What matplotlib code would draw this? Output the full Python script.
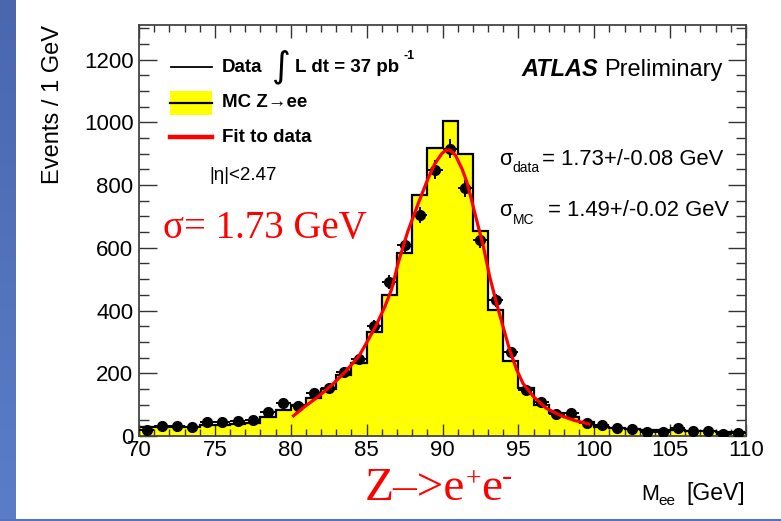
import numpy as np
import matplotlib
matplotlib.use("Agg")
import matplotlib.pyplot as plt
from matplotlib.lines import Line2D
from matplotlib.patches import Rectangle
from matplotlib.ticker import MultipleLocator
from matplotlib.colors import LinearSegmentedColormap

# ---- histogram contents (1 GeV bins, 70-110 GeV) ----
bin_low = 70
bin_high = 110
mc_counts = [28, 28, 29, 30, 34, 35, 37, 40, 62, 83,
             99, 120, 150, 196, 234, 332, 448, 582, 767, 918,
             1005, 900, 652, 403, 240, 152, 100, 72, 60, 45,
             30, 25, 22, 20, 18, 18, 16, 15, 13, 12]
data_counts = [19, 32, 32, 30, 46, 46, 49, 51, 78, 104,
               97, 136, 154, 205, 244, 350, 491, 608, 704, 849,
               916, 789, 624, 433, 268, 146, 109, 69, 72, 40,
               35, 24, 22, 14, 14, 24, 15, 15, 6, 11]

# ---- fitted line shape (mass in GeV, events per GeV) ----
fit_mass = [80.1, 80.9, 81.8, 82.7, 83.6, 84.5, 85.1, 85.6, 86.2, 86.65,
            87.1, 87.7, 88.4, 89.05, 89.5, 89.95, 90.2, 90.4, 90.6, 90.85,
            91.3, 91.6, 91.9, 92.25, 92.7, 93.1, 93.55, 94.0, 94.45, 94.9,
            95.3, 96.0, 96.85, 97.75, 98.6, 99.75]
fit_counts = [61, 93, 125, 162, 205, 255, 306, 350, 412, 468,
              555, 650, 741, 821, 868, 900, 910, 912, 907, 895,
              850, 810, 755, 688, 603, 510, 425, 347, 270, 210,
              168, 125, 88, 66, 51, 37]

x_ticks = [70, 75, 80, 85, 90, 95, 100, 105, 110]
y_ticks = [0, 200, 400, 600, 800, 1000, 1200]

edges = np.arange(bin_low, bin_high + 1, 1.0)
centres = 0.5 * (edges[:-1] + edges[1:])
data = np.asarray(data_counts, dtype=float)

W, H = 781, 521
def fx(px):
    return px / W
def fy(py):
    return 1.0 - py / H

SANS = "Liberation Sans"
SERIF = "Liberation Serif"
plt.rcParams["font.family"] = [SANS, "DejaVu Sans"]

fig = plt.figure(figsize=(W / 100, H / 100), dpi=100)
fig.patch.set_facecolor("white")

# slide decoration: blue side strip and bottom rule
strip = fig.add_axes([0, 0, fx(16), 1])
grad = np.linspace(0, 1, 256).reshape(-1, 1)
cmap = LinearSegmentedColormap.from_list("strip", ["#4a67ae", "#5b7dc8"])
strip.imshow(grad, aspect="auto", cmap=cmap, extent=[0, 1, 0, 1], origin="upper")
strip.set_axis_off()
fig.add_artist(Rectangle((0, 0), 1, 2.0 / H, transform=fig.transFigure,
                         facecolor="#5275c2", edgecolor="none"))

ax = fig.add_axes([fx(139), fy(436), (746 - 139) / W, (436 - 25) / H])

# MC histogram
ax.stairs(mc_counts, edges, fill=True, facecolor="#ffff00", edgecolor="none", zorder=1)
ax.stairs(mc_counts, edges, fill=False, color="black", linewidth=1.6, zorder=2,
          baseline=0)
# data points with statistical errors
ax.errorbar(centres, data, yerr=np.sqrt(data), xerr=0.5, fmt="o", color="black",
            markersize=7, elinewidth=1.4, capsize=0, zorder=4)
# fit
ax.plot(fit_mass, fit_counts, color="red", linewidth=2.3, zorder=5,
        solid_capstyle="butt")

ax.set_xlim(bin_low, bin_high)
ax.set_ylim(0, 1310)
ax.set_xticks(x_ticks)
ax.set_yticks(y_ticks)
ax.xaxis.set_minor_locator(MultipleLocator(1))
ax.yaxis.set_minor_locator(MultipleLocator(50))
ax.tick_params(which="both", direction="in", top=True, right=True,
               colors="#333333", width=1.0, labelcolor="black", labelsize=16)
ax.tick_params(axis="x", which="major", length=9, pad=3)
ax.tick_params(axis="x", which="minor", length=4.7)
ax.tick_params(axis="y", which="major", length=13, pad=4)
ax.tick_params(axis="y", which="minor", length=7.2)
for s in ax.spines.values():
    s.set_color("#444444")
    s.set_linewidth(1.3)

# axis titles
fig.text(fx(53), fy(25), "Events / 1 GeV", rotation=90, ha="center", va="top",
         fontsize=17)
fig.text(fx(745), fy(500), "[GeV]", ha="right", va="baseline", fontsize=16.5)
fig.text(fx(658), fy(505), "ee", ha="left", va="baseline", fontsize=11)
fig.text(fx(641), fy(500), "M", ha="left", va="baseline", fontsize=15.5)

# legend
fig.add_artist(Line2D([fx(171), fx(212)], [fy(67), fy(67)], color="black", lw=1.3))
fig.add_artist(Rectangle((fx(170), fy(115)), (212 - 170) / W, (115 - 91) / H,
                         transform=fig.transFigure, facecolor="#ffff00",
                         edgecolor="none"))
fig.add_artist(Line2D([fx(170), fx(212)], [fy(103), fy(103)], color="black", lw=1.6))
fig.add_artist(Line2D([fx(170), fx(212)], [fy(137), fy(137)], color="red", lw=3.2))
fig.text(fx(222), fy(67), "Data", fontsize=13.5, fontweight="bold", va="center")
fig.text(fx(222), fy(103), "MC Z\u2192ee", fontsize=13.5, fontweight="bold", va="center")
fig.text(fx(222), fy(137), "Fit to data", fontsize=13.5, fontweight="bold", va="center")
fig.text(fx(209), fy(175), "|\u03b7|<2.47", fontsize=13.5, va="center")

# luminosity
fig.text(fx(281), fy(67), "\u222b", family="DejaVu Sans", fontsize=26,
         ha="center", va="center")
fig.text(fx(295), fy(72), "L dt = 37 pb", fontsize=13.5, fontweight="bold",
         va="baseline")
fig.text(fx(404), fy(59), "-1", fontsize=9, fontweight="bold", va="baseline")

# experiment label
prelim = fig.text(fx(722), fy(76), "Preliminary", fontsize=17, ha="right",
                  va="baseline")
ax.annotate("ATLAS", xy=(0, 0), xycoords=prelim, xytext=(-4, 0),
            textcoords="offset points", ha="right", va="bottom", fontsize=17,
            fontweight="bold", fontstyle="italic", annotation_clip=False)

# resolution values
fig.text(fx(499), fy(165), "\u03c3", fontsize=15.5, va="baseline")
fig.text(fx(512), fy(172), "data", fontsize=10, va="baseline")
fig.text(fx(542), fy(165), "= 1.73+/-0.08 GeV", fontsize=15.8, va="baseline")
fig.text(fx(499), fy(216), "\u03c3", fontsize=15.5, va="baseline")
fig.text(fx(513), fy(224), "MC", fontsize=10, va="baseline")
fig.text(fx(548), fy(216), "= 1.49+/-0.02 GeV", fontsize=15.8, va="baseline")

# red annotations
fig.text(fx(163), fy(238), "\u03c3= 1.73 GeV", family=SERIF, fontsize=28,
         color="red", va="baseline")
zbase = fig.text(fx(365), fy(500), "Z\u2013>e", family=SERIF, fontsize=34,
                 color="red", va="baseline")
plus = ax.annotate("+", xy=(1, 0), xycoords=zbase, xytext=(0, 13),
                   textcoords="offset points", ha="left", va="bottom",
                   family=SERIF, fontsize=20, color="red", annotation_clip=False)
e2 = ax.annotate("e", xy=(1, 0), xycoords=(plus, zbase), ha="left", va="bottom",
                 family=SERIF, fontsize=34, color="red", annotation_clip=False)
ax.annotate("-", xy=(1, 0), xycoords=e2, xytext=(0, 13),
            textcoords="offset points", ha="left", va="bottom",
            family=SERIF, fontsize=22, color="red", annotation_clip=False)

fig.savefig("out.png", dpi=100)
